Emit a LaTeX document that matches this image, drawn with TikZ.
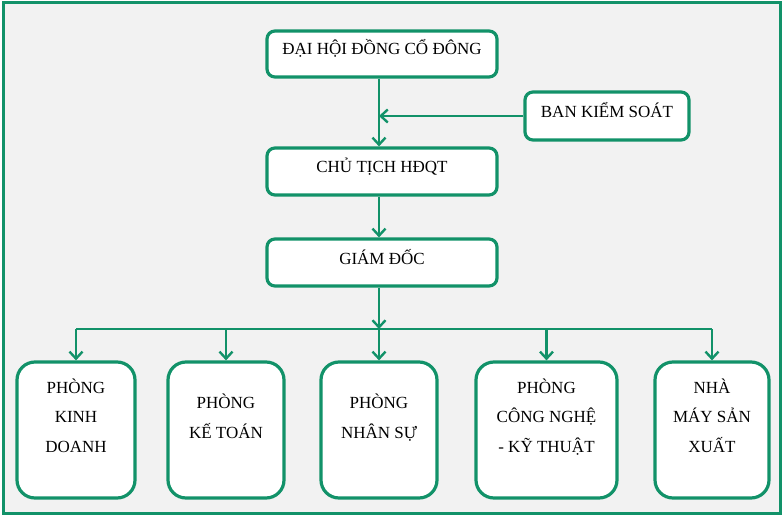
\documentclass[tikz,border=0pt]{standalone}
\usepackage{fontspec}
\setmainfont{Liberation Serif}
\usetikzlibrary{arrows.meta,positioning}
\definecolor{orggreen}{RGB}{18,146,105}
\definecolor{panelgray}{RGB}{242,242,242}
\begin{document}
\begin{tikzpicture}[x=1pt,y=-1pt,
    box/.style={draw=orggreen,line width=3.2pt,fill=white,rounded corners=8pt,inner sep=0pt},
    unit/.style={box,rounded corners=18pt,minimum height=136pt},
    lbl/.style={inner sep=0pt,align=center,font=\fontsize{17pt}{29.5pt}\selectfont,
      execute at begin node=\strut},
    link/.style={draw=orggreen,line width=2.4pt},
    arr/.style={link,-{Straight Barb[length=7pt,width=13pt,line width=2.4pt]}},
  ]
\useasboundingbox (0,0) rectangle (784,516);
\draw[draw=orggreen,line width=3pt,fill=panelgray] (3,3) rectangle (780,513);
% top chain
\node[box,minimum width=230pt,minimum height=46pt] (dh) at (382,54) {};
\node[box,minimum width=164pt,minimum height=48pt] (bks) at (607,116) {};
\node[box,minimum width=230pt,minimum height=47pt] (ct) at (382,171.5) {};
\node[box,minimum width=230pt,minimum height=47pt] (gd) at (382,262.5) {};
\node[lbl,below=4.5pt of dh.north] (dh-t) {ĐẠI HỘI ĐỒNG CỔ ĐÔNG};
\node[lbl,below=6.5pt of bks.north] (bks-t) {BAN KIỂM SOÁT};
\node[lbl,below=5.5pt of ct.north] (ct-t) {CHỦ TỊCH HĐQT};
\node[lbl,below=6pt of gd.north] (gd-t) {GIÁM ĐỐC};
% departments
\node[unit,minimum width=118pt] (kd) at (76,430) {};
\node[unit,minimum width=116pt] (kt) at (226,430) {};
\node[unit,minimum width=116pt] (ns) at (379,430) {};
\node[unit,minimum width=141pt] (cn) at (546.5,430) {};
\node[unit,minimum width=114pt] (nm) at (712,430) {};
\node[lbl,below=18pt of kd.north] (kd-t) {PHÒNG\\KINH\\DOANH};
\node[lbl,below=33.5pt of kt.north] (kt-t) {PHÒNG\\KẾ TOÁN};
\node[lbl,below=33.5pt of ns.north] (ns-t) {PHÒNG\\NHÂN SỰ};
\node[lbl,below=18pt of cn.north] (cn-t) {PHÒNG\\CÔNG NGHỆ\\- KỸ THUẬT};
\node[lbl,below=18pt of nm.north] (nm-t) {NHÀ\\MÁY SẢN\\XUẤT};
\coordinate (bus) at (379,329);
\coordinate (spine) at (379,0);
% connectors
\draw[arr] (dh.south -| spine) -- (ct.north -| spine);
\draw[arr] (bks.west) -- (bks.west -| spine);
\draw[arr] (ct.south -| spine) -- (gd.north -| spine);
\draw[arr] (gd.south -| spine) -- (bus);
\draw[link] (kd.north |- bus) -- (nm.north |- bus);
\foreach \d in {kd,kt,ns,cn,nm}
  \draw[arr] (\d.north |- bus) -- (\d.north);
\end{tikzpicture}
\end{document}
